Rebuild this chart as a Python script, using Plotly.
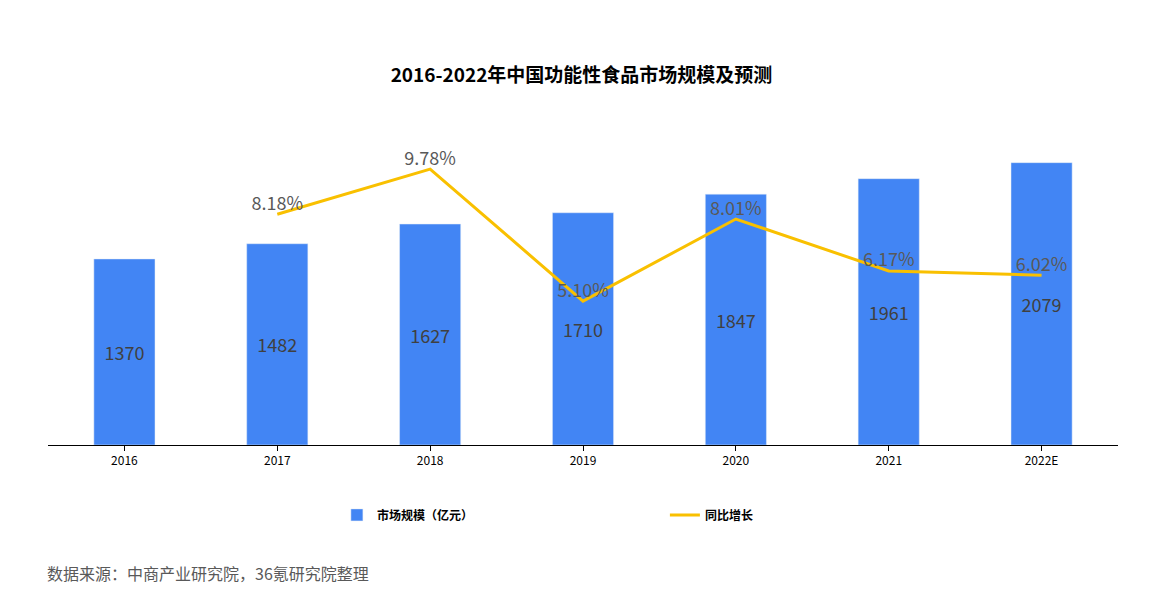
import plotly.graph_objects as go

years = ["2016", "2017", "2018", "2019", "2020", "2021", "2022E"]
market = [1370, 1482, 1627, 1710, 1847, 1961, 2079]
growth_years = ["2017", "2018", "2019", "2020", "2021", "2022E"]
growth = [8.18, 9.78, 5.10, 8.01, 6.17, 6.02]

font = "Noto Sans CJK SC"
fig = go.Figure()
fig.add_bar(x=years, y=market, name="<b>市场规模（亿元）</b>", marker_color="#4285F4", width=0.4,
            text=[str(v) for v in market], textposition="inside", insidetextanchor="middle",
            textfont=dict(size=18, color="#404040", family=font))
fig.add_scatter(x=growth_years, y=growth, name="<b>同比增长</b>", yaxis="y2", mode="lines+text",
                line=dict(color="#F9C000", width=3),
                text=[f"{v:.2f}%" for v in growth], textposition="top center",
                textfont=dict(size=18, color="#595959", family=font))
fig.update_layout(
    width=1147, height=590, plot_bgcolor="white", paper_bgcolor="white",
    margin=dict(l=40, r=37, t=112, b=153),
    font=dict(family=font),
    title=dict(text="<b>2016-2022年中国功能性食品市场规模及预测</b>", x=0.5, xanchor="center",
               y=0.886, yanchor="middle", font=dict(size=19, color="#000")),
    xaxis=dict(showline=True, linecolor="#000", linewidth=1, ticks="outside", tickcolor="#000",
               tickfont=dict(size=12, color="#000"), type="category"),
    yaxis=dict(range=[0, 2393], visible=False),
    yaxis2=dict(range=[0, 11.52], overlaying="y", visible=False),
    legend=dict(orientation="h", x=0.27, xanchor="left", y=-0.215, yanchor="middle",
                font=dict(size=12, color="#000"), tracegroupgap=0,
                entrywidthmode="pixels", entrywidth=283),
    showlegend=True,
    annotations=[dict(text="数据来源：中商产业研究院，36氪研究院整理", xref="paper", yref="paper",
                      x=-0.003, xanchor="left", y=-0.394, yanchor="middle", showarrow=False,
                      font=dict(size=16, color="#595959"))],
)
fig.write_html("out.html")
